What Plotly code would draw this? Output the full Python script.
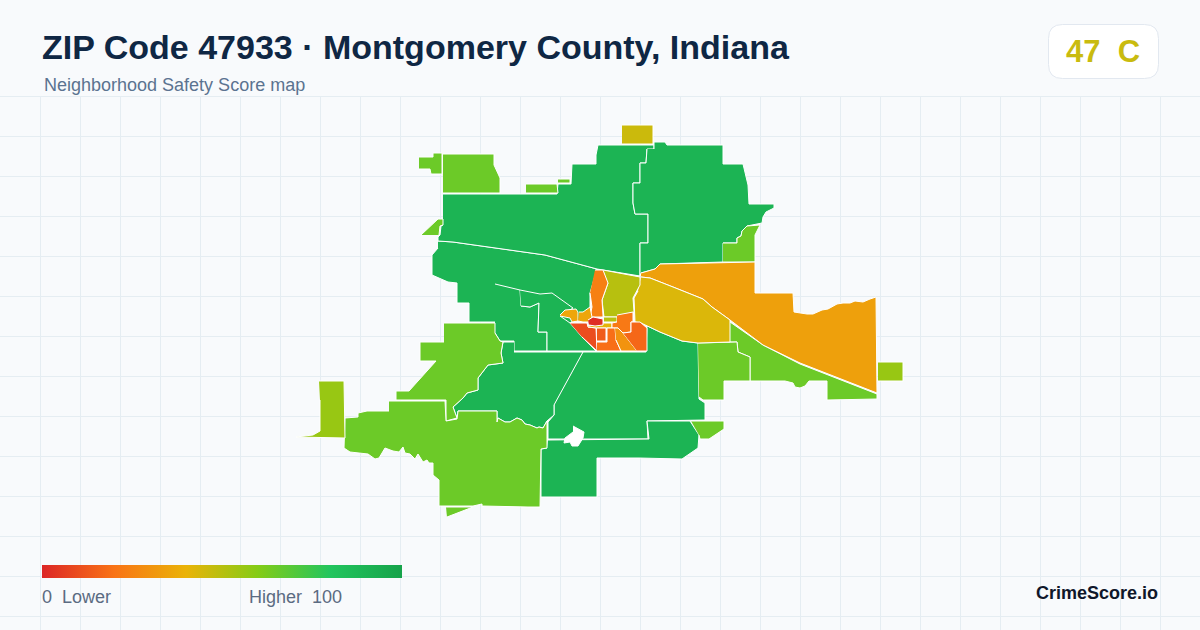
import plotly.colors as pc
import plotly.graph_objects as go

TITLE = "ZIP Code 47933 · Montgomery County, Indiana"
SUBTITLE = "Neighborhood Safety Score map"
BADGE = "47  C"
BRAND = "CrimeScore.io"

# score colours, low to high
score_stops = [0, 0.2, 0.4, 0.6, 0.8, 1]
score_colors = ["#dc2626", "#f97316", "#eab308", "#84cc16", "#22c55e", "#16a34a"]

# outlines, in picture pixels
north_west = [(443, 194), (557, 194), (558, 184), (571, 184), (572, 164), (596, 164), (596, 155), (598, 145), (654, 145),
              (654, 149), (647, 149), (646, 163), (640, 163), (640, 183), (633, 183), (633, 203), (635, 214), (648, 214),
              (648, 243), (640, 243), (640, 276), (597, 269), (545, 255), (453, 242), (438, 241), (438, 237), (440, 235),
              (441, 226), (443, 225)]
north_east = [(654, 149), (654, 142), (665, 142), (667, 145), (723, 145), (723, 164), (743, 164), (748, 185), (749, 204),
              (774, 204), (774, 208), (766, 212), (763, 217), (762, 223), (747, 226), (742, 231), (741, 236), (737, 238),
              (737, 243), (723, 243), (723, 262), (660, 264), (655, 269), (641, 273), (640, 276), (640, 243), (648, 243),
              (648, 214), (635, 214), (633, 203), (633, 183), (640, 183), (640, 163), (646, 163), (647, 149)]
west_mid = [(438, 241), (453, 242), (545, 255), (597, 269), (590, 293), (590, 317), (570, 323), (596, 351), (514, 351),
            (514, 341), (500, 341), (495, 333), (495, 322), (469, 322), (469, 303), (457, 303), (457, 283), (448, 282),
            (432, 275), (432, 255), (438, 248)]
inner_west = [(495, 284), (520, 290), (521, 306), (530, 307), (539, 303), (538, 332), (547, 332), (547, 351), (514, 351),
              (514, 341), (500, 341), (495, 333)]
inner_mid = [(520, 290), (540, 294), (552, 293), (573, 308), (560, 316), (570, 323), (582, 337), (596, 351), (547, 351),
             (547, 332), (538, 332), (539, 303), (530, 307), (521, 306)]
south_centre = [(583, 352), (646, 352), (647, 325), (641, 323), (660, 332), (682, 341), (698, 343), (699, 399), (705, 403),
                (705, 420), (647, 421), (648, 439), (548, 439), (548, 422), (554, 415), (554, 405)]
south_tail = [(548, 440), (649, 439), (647, 421), (690, 421), (699, 435), (698, 448), (682, 459), (639, 458), (597, 458),
              (597, 497), (541, 497), (541, 449), (547, 448)]
south_west_mid = [(514, 352), (583, 352), (554, 405), (554, 415), (547, 421), (543, 428), (539, 427), (537, 428), (530, 425),
                  (525, 424), (522, 420), (517, 418), (510, 422), (505, 422), (498, 418), (497, 422), (497, 411), (458, 411),
                  (457, 418), (453, 407), (463, 398), (467, 393), (478, 390), (478, 378), (488, 365), (503, 363), (501, 353),
                  (503, 342), (514, 342)]

nw_corner_a = [(419, 157), (433, 157), (433, 153), (442, 153), (442, 174), (431, 174), (430, 169), (419, 169)]
nw_corner_b = [(443, 154), (468, 154), (494, 154), (494, 165), (500, 178), (500, 193), (443, 193)]
north_strip = [(526, 184), (557, 184), (558, 193), (526, 193)]
north_tiny = [(558, 179), (570, 179), (570, 183), (558, 183)]
nw_sliver = [(421, 235), (438, 219), (443, 219), (443, 225), (440, 226), (439, 235)]
ne_notch = [(723, 243), (737, 243), (737, 238), (741, 236), (742, 231), (747, 226), (760, 225), (755, 235), (755, 262), (723, 262)]
east_band = [(730, 322), (763, 345), (800, 364), (877, 394), (877, 399), (827, 400), (827, 381), (809, 381), (805, 386),
             (800, 388), (795, 387), (793, 383), (785, 381), (750, 381), (750, 357), (738, 352), (737, 342), (730, 342)]
east_block = [(698, 343), (737, 342), (738, 352), (750, 357), (750, 381), (724, 381), (724, 400), (703, 400), (699, 397)]
se_chip = [(691, 421), (724, 421), (724, 429), (709, 439), (700, 439), (699, 435)]
west_arm = [(444, 323), (495, 323), (495, 333), (500, 341), (503, 342), (501, 353), (503, 363), (488, 365), (478, 378),
            (478, 390), (467, 393), (463, 398), (453, 407), (457, 418), (446, 421), (446, 400), (396, 400), (396, 391),
            (409, 391), (436, 361), (420, 361), (420, 342), (444, 342)]
south_west = [(389, 401), (445, 401), (446, 421), (457, 419), (458, 411), (497, 411), (497, 422), (498, 418), (505, 422),
              (510, 422), (517, 418), (522, 420), (525, 424), (530, 425), (537, 428), (539, 427), (543, 428), (547, 421),
              (547, 448), (541, 449), (540, 507), (528, 507), (482, 506), (482, 504), (473, 506), (439, 506), (439, 480),
              (433, 475), (433, 463), (429, 463), (427, 460), (423, 462), (418, 454), (415, 459), (410, 454), (405, 453),
              (403, 447), (399, 452), (393, 451), (385, 448), (379, 458), (375, 459), (368, 454), (360, 453), (350, 452),
              (344, 448), (345, 418), (358, 417), (358, 413), (367, 411), (377, 411), (389, 411)]
south_sliver = [(446, 507), (473, 507), (447, 517)]

far_west = [(319, 381), (344, 381), (345, 438), (296, 437), (313, 435), (320, 431), (320, 400)]
far_east = [(878, 362), (903, 362), (903, 381), (878, 381)]
north_block = [(622, 125), (653, 125), (653, 144), (622, 144)]

east_large = [(641, 273), (655, 269), (660, 264), (755, 262), (755, 293), (793, 293), (794, 312), (807, 314), (813, 314),
              (822, 310), (828, 309), (837, 304), (843, 303), (850, 303), (855, 301), (863, 302), (870, 299), (876, 297),
              (877, 393), (800, 363), (763, 345), (745, 331), (730, 320), (712, 307), (703, 299), (673, 287), (650, 278),
              (641, 277)]
east_gold = [(641, 277), (650, 278), (673, 287), (703, 299), (712, 307), (730, 320), (730, 342), (698, 343), (682, 341),
             (660, 332), (641, 323), (635, 322), (634, 298), (638, 291)]
north_olive = [(603, 270), (640, 277), (640, 285), (633, 298), (634, 312), (617, 317), (604, 317), (602, 300), (608, 283)]
north_orange = [(595, 270), (603, 270), (608, 283), (602, 300), (603, 315), (603, 317), (590, 317), (592, 307), (590, 293)]

city_gold_a = [(560, 315), (565, 310), (576, 309), (578, 312), (578, 321), (572, 322), (570, 318), (560, 316)]
city_gold_b = [(579, 312), (583, 312), (590, 307), (592, 317), (588, 322), (583, 322), (578, 321)]
city_west = [(570, 323), (587, 323), (588, 327), (596, 328), (597, 351), (582, 337)]
city_core = [(588, 320), (593, 317), (603, 319), (603, 325), (595, 326), (589, 325)]
city_lime = [(604, 317), (617, 317), (617, 322), (604, 322)]
city_amber = [(589, 326), (603, 323), (612, 323), (612, 328), (597, 328), (588, 327)]
city_orange = [(617, 315), (633, 312), (633, 322), (631, 322), (631, 332), (623, 333), (618, 328), (612, 328), (612, 323), (617, 322)]
city_inner = [(597, 328), (606, 328), (606, 341), (597, 341)]
city_south = [(597, 342), (607, 342), (607, 328), (615, 328), (616, 340), (621, 351), (597, 351)]
city_wedge = [(615, 328), (618, 328), (623, 333), (637, 351), (621, 351), (616, 340)]
city_east = [(623, 333), (631, 332), (631, 322), (640, 322), (647, 328), (647, 351), (637, 351)]

hole = [(573, 426), (584, 432), (583, 438), (578, 446), (572, 446), (570, 442), (564, 443), (565, 438), (573, 432)]

regions = [west_mid, north_west, north_east, inner_west, inner_mid, south_centre, south_tail, south_west_mid,
           nw_corner_a, nw_corner_b, north_strip, north_tiny, nw_sliver, ne_notch, east_band, east_block, se_chip,
           west_arm, south_west, south_sliver, far_west, far_east, north_block,
           east_large, east_gold, north_olive, north_orange,
           city_gold_a, city_gold_b, city_west, city_lime, city_amber, city_orange, city_inner, city_south,
           city_wedge, city_east, city_core]
scores = [90, 90, 90, 90, 90, 90, 90, 90,
          65, 65, 65, 65, 65, 65, 65, 65, 65,
          65, 65, 65, 56, 56, 46,
          34, 43, 50, 24,
          36, 36, 10, 50, 41, 22, 14, 19,
          30, 17, 2]

colorscale = [[s, c] for s, c in zip(score_stops, score_colors)]

fig = go.Figure()

for points, score in zip(regions, scores):
    fig.add_trace(go.Scatter(
        x=[p[0] for p in points],
        y=[p[1] for p in points],
        mode="lines",
        fill="toself",
        fillcolor=pc.sample_colorscale(colorscale, score / 100)[0],
        line=dict(color="#ffffff", width=1),
        hoverinfo="skip",
        showlegend=False,
    ))

fig.add_trace(go.Scatter(
    x=[p[0] for p in hole],
    y=[p[1] for p in hole],
    mode="lines",
    fill="toself",
    fillcolor="#ffffff",
    line=dict(color="#ffffff", width=1),
    hoverinfo="skip",
    showlegend=False,
))

# only here for the colour bar
fig.add_trace(go.Scatter(
    x=[None],
    y=[None],
    mode="markers",
    marker=dict(
        color=[50],
        cmin=0,
        cmax=100,
        colorscale=colorscale,
        showscale=True,
        colorbar=dict(
            orientation="h",
            x=42 / 1200,
            xanchor="left",
            y=1 - 565 / 630,
            yanchor="top",
            lenmode="pixels",
            len=360,
            thicknessmode="pixels",
            thickness=13,
            xpad=0,
            ypad=0,
            outlinewidth=0,
            ticks="",
            showticklabels=False,
        ),
    ),
    hoverinfo="skip",
    showlegend=False,
))

shapes = []
for gx in range(40, 1201, 40):
    shapes.append(dict(type="line", layer="below", x0=gx + 0.5, x1=gx + 0.5, y0=96, y1=630,
                       line=dict(color="#e5edf2", width=1)))
for gy in range(96, 630, 40):
    shapes.append(dict(type="line", layer="below", x0=0, x1=1200, y0=gy + 0.5, y1=gy + 0.5,
                       line=dict(color="#e5edf2", width=1)))
# score badge, rounded corners
shapes.append(dict(
    type="path", layer="below",
    path="M1062.5,24.5 H1144.5 Q1158.5,24.5 1158.5,38.5 V64.5 Q1158.5,78.5 1144.5,78.5 "
         "H1062.5 Q1048.5,78.5 1048.5,64.5 V38.5 Q1048.5,24.5 1062.5,24.5 Z",
    line=dict(color="#e2e8f0", width=1), fillcolor="#ffffff",
))

FONT = "Liberation Sans"


def label(x, y, text, size, color, anchor="left", bold=False):
    fig.add_annotation(
        x=x, y=y, xref="x", yref="y", text=f"<b>{text}</b>" if bold else text, showarrow=False,
        xanchor=anchor, yanchor="middle", align=anchor, borderpad=0, borderwidth=0,
        font=dict(family=FONT, size=size, color=color),
    )


label(42, 47, TITLE, 34, "#0f2744", bold=True)
label(44, 85, SUBTITLE, 18, "#5b7390")
label(1103, 51, BADGE, 31, "#c9bb0f", anchor="center", bold=True)
label(42, 597, "0  Lower", 18, "#5b6b82")
label(342, 597, "Higher  100", 18, "#5b6b82", anchor="right")
label(1158, 593, BRAND, 18, "#0f172a", anchor="right", bold=True)

fig.update_layout(
    width=1200,
    height=630,
    margin=dict(l=0, r=0, t=0, b=0, autoexpand=False),
    paper_bgcolor="#f8fafc",
    plot_bgcolor="#f8fafc",
    showlegend=False,
    shapes=shapes,
    xaxis=dict(range=[0, 1200], visible=False, fixedrange=True),
    yaxis=dict(range=[630, 0], visible=False, fixedrange=True),
)

# default body margin would push the picture 8px off
fig.write_html("out.html", config={"displayModeBar": False},
               post_script="document.body.style.margin='0';document.body.style.background='#f8fafc';")
